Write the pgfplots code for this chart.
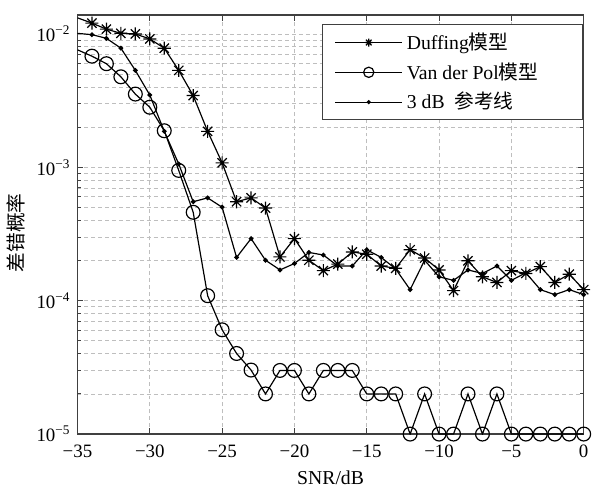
\documentclass[border=0pt]{standalone}
\usepackage{pgfplots}
\pgfplotsset{compat=1.18}
\usepackage{pgfplotstable}
\usepackage{fontspec}
\setmainfont{Liberation Serif}
\newfontfamily\cjk{Noto Sans CJK SC}
\usetikzlibrary{calc}
\definecolor{axc}{HTML}{404040}
\definecolor{gridc}{HTML}{BEBEBE}

% MATLAB-like 8-arm asterisk
\pgfdeclareplotmark{ast8}{%
  \pgfpathmoveto{\pgfqpoint{-\pgfplotmarksize}{0pt}}\pgfpathlineto{\pgfqpoint{\pgfplotmarksize}{0pt}}%
  \pgfpathmoveto{\pgfqpoint{0pt}{-\pgfplotmarksize}}\pgfpathlineto{\pgfqpoint{0pt}{\pgfplotmarksize}}%
  \pgfpathmoveto{\pgfqpoint{-0.7071\pgfplotmarksize}{-0.7071\pgfplotmarksize}}\pgfpathlineto{\pgfqpoint{0.7071\pgfplotmarksize}{0.7071\pgfplotmarksize}}%
  \pgfpathmoveto{\pgfqpoint{-0.7071\pgfplotmarksize}{0.7071\pgfplotmarksize}}\pgfpathlineto{\pgfqpoint{0.7071\pgfplotmarksize}{-0.7071\pgfplotmarksize}}%
  \pgfusepathqstroke}

\pgfplotstableread{
snr pe
-35 0.0132
-34 0.01205
-33 0.01086
-32 0.0101
-31 0.0100
-30 0.00917
-29 0.00782
-28 0.00533
-27 0.00345
-26 0.00186
-25 0.00108
-24 0.000552
-23 0.000590
-22 0.000495
-21 0.000213
-20 0.000292
-19 0.000201
-18 0.000168
-17 0.000188
-16 0.000232
-15 0.000223
-14 0.000182
-13 0.000175
-12 0.000241
-11 0.000209
-10 0.000170
-9 0.000119
-8 0.000199
-7 0.000151
-6 0.000137
-5 0.000168
-4 0.000160
-3 0.000180
-2 0.000137
-1 0.000158
0 0.000121
}\duffing

\pgfplotstableread{
snr pe
-35 0.0076
-34 0.00681
-33 0.00598
-32 0.00477
-31 0.00354
-30 0.00282
-29 0.00188
-28 0.000948
-27 0.000460
-26 0.000109
-25 0.0000605
-24 0.0000402
-23 0.0000302
-22 0.00002
-21 0.00003
-20 0.00003
-19 0.00002
-18 0.00003
-17 0.00003
-16 0.00003
-15 0.00002
-14 0.00002
-13 0.00002
-12 0.00001
-11 0.00002
-10 0.00001
-9 0.00001
-8 0.00002
-7 0.00001
-6 0.00002
-5 0.00001
-4 0.00001
-3 0.00001
-2 0.00001
-1 0.00001
0 0.00001
}\vdp

\pgfplotstableread{
snr pe
-35 0.0101
-34 0.00987
-33 0.00927
-32 0.00782
-31 0.00533
-30 0.00348
-29 0.00186
-28 0.00106
-27 0.000552
-26 0.000590
-25 0.000502
-24 0.000211
-23 0.000292
-22 0.000201
-21 0.000170
-20 0.000190
-19 0.000230
-18 0.000220
-17 0.000182
-16 0.000182
-15 0.000241
-14 0.000211
-13 0.000173
-12 0.000121
-11 0.000201
-10 0.000151
-9 0.000142
-8 0.000170
-7 0.000160
-6 0.000182
-5 0.000142
-4 0.000162
-3 0.000121
-2 0.000111
-1 0.000121
0 0.000111
}\ref

\begin{document}
\begin{tikzpicture}
\begin{semilogyaxis}[
  scale only axis, width=256bp, height=212bp,
  xmin=-35, xmax=0, ymin=1e-5, ymax=0.0139,
  xtick={-35,-30,...,0},
  xticklabels={−35,−30,−25,−20,−15,−10,−5,0},
  ytick={1e-5,1e-4,1e-3,1e-2},
  yticklabels={10\textsuperscript{−5},10\textsuperscript{−4},10\textsuperscript{−3},10\textsuperscript{−2}},
  tick label style={font=\fontsize{9.6}{11}\selectfont},
  xticklabel style={yshift=-2bp},
  grid=both,
  major grid style={gridc, line width=0.4bp, dash pattern=on 2bp off 1.5bp},
  minor grid style={gridc, line width=0.4bp, dash pattern=on 2bp off 1.5bp},
  axis line style={axc, line width=0.7bp},
  every tick/.style={axc, line width=0.5bp},
  major tick length=3bp, minor tick length=1.8bp,
  xlabel={SNR/dB},
  ylabel={{\cjk 差错概率}},
  label style={font=\fontsize{10}{12}\selectfont},
  xlabel style={at={(axis description cs:0.5,-0.104)}, anchor=center},
  ylabel style={at={(axis description cs:-0.122,0.48)}, anchor=center},
  clip mode=individual,
  legend style={at={(axis description cs:0.998,0.976)}, anchor=north east,
    draw=axc, line width=0.6bp, font=\fontsize{10}{12}\selectfont, outer sep=0pt,
    inner xsep=6bp, inner ysep=2bp, row sep=1.2bp},
  legend cell align=left,
  legend image code/.code={\draw[mark repeat=2,mark phase=2,#1] plot coordinates {(0bp,0bp) (17bp,0bp) (34bp,0bp)};},
]
\addplot[black, line width=0.6bp, mark=ast8, mark size=3.3bp, mark phase=2,
  legend image post style={mark size=2bp}] table[x=snr,y=pe] {\duffing};
\addlegendentry{Duffing{\cjk 模型}}
\addplot[black, line width=0.6bp, mark=o, mark size=3.5bp, mark phase=2,
  legend image post style={mark size=2.6bp}] table[x=snr,y=pe] {\vdp};
\addlegendentry{Van der Pol{\cjk 模型}\rule{14.5bp}{0pt}}
\addplot[black, line width=0.6bp, mark=*, mark size=0.9bp, mark phase=2,
  legend image post style={mark size=0.7bp}] table[x=snr,y=pe] {\ref};
\addlegendentry{3 dB\ \ {\cjk 参考线}}
\coordinate (bl) at (rel axis cs:0,0);
\coordinate (tr) at (rel axis cs:1,1);
\end{semilogyaxis}
\path ($(bl)+(-38bp,-28.5bp)$) rectangle ($(tr)+(3.5bp,7.5bp)$);
\end{tikzpicture}
\end{document}
